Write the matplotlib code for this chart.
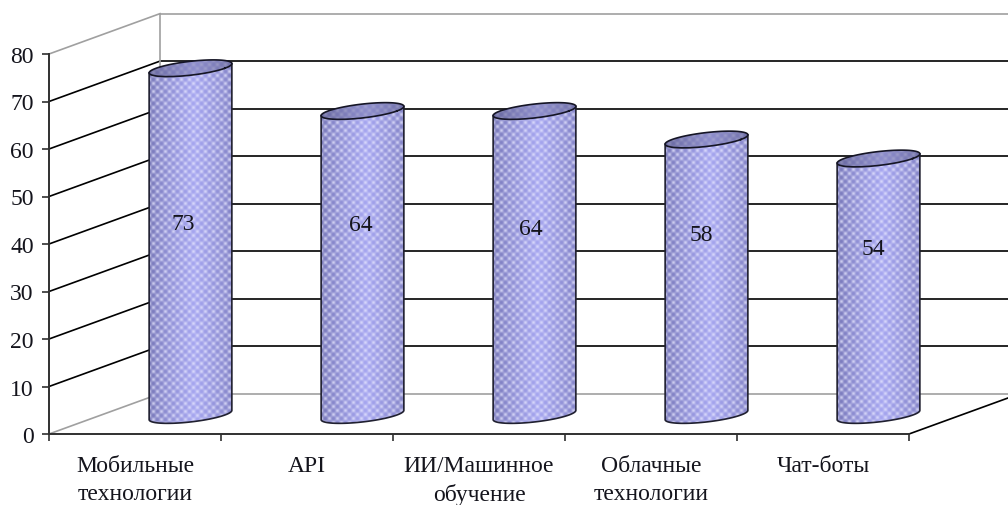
import numpy as np
import matplotlib
matplotlib.use('Agg')
import matplotlib.pyplot as plt
from matplotlib.path import Path
from matplotlib.patches import PathPatch

categories = ['Мобильные\nтехнологии', 'API', 'ИИ/Машинное\nобучение', 'Облачные\nтехнологии', 'Чат-боты']
values = [73, 64, 64, 58, 54]
value_ticks = [0, 10, 20, 30, 40, 50, 60, 70, 80]

# heights of the labels inside the cylinders
label_heights = [44.3, 44.0, 43.2, 42.1, 39.0]
label_shift = [-0.04, -0.01, -0.02, -0.03, -0.03]

plt.rcParams['font.family'] = ['Liberation Serif', 'DejaVu Serif']

W, H = 1008, 506
LEFT, RIGHT, TOP, BOTTOM = 49, 909, 54, 434

# oblique depth of the box, in data units
DEPTH_X = 111 / 172
DEPTH_Y = 8.5
RADIUS_X = 0.2
RADIUS_D = 0.207
FLOOR_LEVEL = 0.5 * DEPTH_Y - 0.25

fig = plt.figure(figsize=(W / 100, H / 100), dpi=100)
ax = fig.add_axes([LEFT / W, 1 - (BOTTOM + 1) / H, (RIGHT - LEFT) / W, (BOTTOM - TOP) / H])

n = len(categories)
grid_gray = '#a0a0a0'
dark = '#303030'
ink = '#14141c'


def texture(w, h, strength, tone):
    # dotted fill with a horizontal shading band
    xx, yy = np.meshgrid(np.arange(w), np.arange(h))
    dots = ((np.cos(2 * np.pi * xx / 8) * np.cos(2 * np.pi * yy / 8)) + 1) / 2
    dots = np.maximum(dots, ((np.cos(2 * np.pi * (xx + 4) / 8) * np.cos(2 * np.pi * (yy + 4) / 8)) + 1) / 2)
    u = xx / max(w - 1, 1)
    shade = np.clip(1 - np.abs(u - 0.55) / 0.55, 0, 1) ** 0.7
    base = np.zeros((h, w, 3))
    blue_dark = np.array([116, 116, 180]) / 255
    blue_light = np.array([166, 166, 240]) / 255
    for c in range(3):
        base[..., c] = blue_dark[c] + (blue_light[c] - blue_dark[c]) * shade
    white = np.array([232, 232, 255]) / 255
    return (base + (white - base) * (dots ** 1.6)[..., None] * strength) * tone


def ellipse(center_x, level, t):
    x = center_x + RADIUS_X * np.cos(t) + RADIUS_D * DEPTH_X * np.sin(t)
    y = level + FLOOR_LEVEL + RADIUS_D * DEPTH_Y * np.sin(t)
    return x, y


def fill_textured(xs, ys, strength, tone, zorder):
    verts = np.column_stack([xs, ys])
    clip = PathPatch(Path(verts), transform=ax.transData, facecolor='none', edgecolor='none', clip_on=False)
    ax.add_patch(clip)
    px_w = int((xs.max() - xs.min()) * (RIGHT - LEFT) / n) + 1
    px_h = int((ys.max() - ys.min()) * (BOTTOM - TOP) / 80) + 1
    im = ax.imshow(texture(px_w, px_h, strength, tone), extent=(xs.min(), xs.max(), ys.min(), ys.max()),
                   aspect='auto', interpolation='bilinear', zorder=zorder)
    im.set_clip_box(fig.bbox)
    im.set_clip_path(clip)


# back wall
for v in value_ticks:
    col = grid_gray if v in (0, 80) else 'black'
    ax.plot([DEPTH_X, n + DEPTH_X], [v + DEPTH_Y, v + DEPTH_Y], color=col, lw=1.2, clip_on=False, zorder=1)
    ax.plot([0, DEPTH_X], [v, v + DEPTH_Y], color=col, lw=1.2, clip_on=False, zorder=1)
ax.plot([DEPTH_X, DEPTH_X], [DEPTH_Y, 80 + DEPTH_Y], color=grid_gray, lw=1.2, clip_on=False, zorder=1)
# floor edge on the right
ax.plot([n, n + DEPTH_X], [0, DEPTH_Y], color='black', lw=1.2, clip_on=False, zorder=1)

t_right = np.arctan2(RADIUS_D * DEPTH_X, RADIUS_X)
front = np.linspace(t_right - np.pi, t_right, 60)
whole = np.linspace(0, 2 * np.pi, 120)

for i, v in enumerate(values):
    cx = i + 0.5 + 0.5 * DEPTH_X

    bx, by = ellipse(cx, 0, front)
    tx, ty = ellipse(cx, v, front)
    fill_textured(np.r_[bx, tx[::-1]], np.r_[by, ty[::-1]], 0.72, 1.0, 3)
    ax.plot(np.r_[tx[0], bx, tx[-1]], np.r_[ty[0], by, ty[-1]], color='#202030', lw=1.2, clip_on=False, zorder=4)

    cap_x, cap_y = ellipse(cx, v, whole)
    fill_textured(cap_x, cap_y, 0.35, 0.85, 5)
    ax.plot(cap_x, cap_y, color='#151525', lw=1.2, clip_on=False, zorder=6)

    ax.text(cx + label_shift[i], label_heights[i], str(v), ha='center', va='center',
            fontsize=17, color=ink, zorder=7)

ax.set_xlim(0, n)
ax.set_ylim(0, 80)
ax.patch.set_visible(False)

for side in ('top', 'right'):
    ax.spines[side].set_visible(False)
for side in ('left', 'bottom'):
    ax.spines[side].set_color(dark)
    ax.spines[side].set_linewidth(1.4)
    ax.spines[side].set_zorder(8)

ax.set_yticks(value_ticks)
ax.set_xticks(np.arange(n + 1))
ax.set_xticklabels([])
ax.set_xticks(np.arange(n) + 0.5, categories, minor=True)
ax.tick_params(axis='y', length=5, width=1.2, color=dark, pad=6, labelsize=17, labelcolor=ink)
ax.tick_params(axis='x', which='major', length=5, width=1.2, color=dark)
ax.tick_params(axis='x', which='minor', length=0, pad=15, labelsize=17, labelcolor=ink)
for lab in ax.get_xticklabels(minor=True):
    lab.set_linespacing(1.45)
    lab.set_va('top')

fig.savefig('out.png', dpi=100)
